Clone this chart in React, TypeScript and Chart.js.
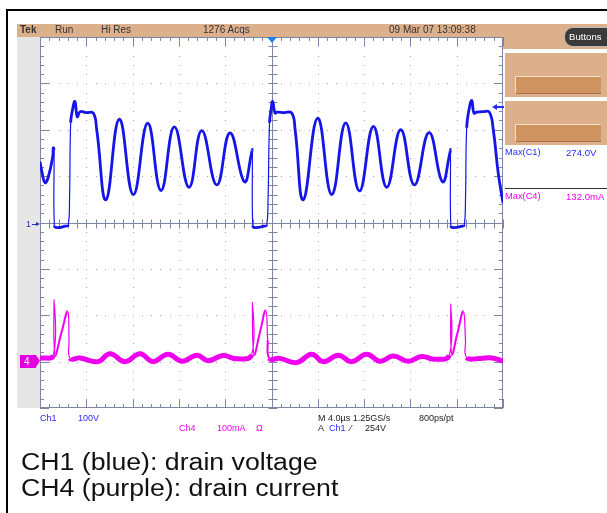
import React, { useEffect, useRef } from "react";
import { Chart, registerables } from "chart.js";

Chart.register(...registerables);

// ---- Data (time in µs, CH1 in V, CH4 in mA) ----
const ch1Time = [0, 0.17, 0.43, 0.69, 1.10, 1.15, 1.21, 1.24, 1.47, 2.16, 2.44, 2.55, 2.65, 2.81, 3.02, 3.22, 3.46, 3.97, 4.60, 4.90, 5.70, 6.85, 8.06, 9.30, 10.45, 11.60, 12.87, 13.97, 15.27, 16.41, 17.65, 18.29, 18.34, 18.38, 18.57, 19.35, 19.59, 19.70, 19.83, 19.96, 20.10, 20.30, 20.48, 21.08, 21.75, 22.04, 22.75, 23.99, 25.20, 26.41, 27.59, 28.80, 29.95, 31.16, 32.34, 33.61, 34.76, 35.42, 35.46, 35.49, 35.68, 36.46, 36.66, 36.76, 36.86, 37.06, 37.30, 37.49, 37.73, 38.27, 38.82, 39.16, 39.59, 40.0];
const ch1Volts = [134, 112, 89, 99, 145, 164, 160, -4, -8, -5, -2, 52, 218, 246, 264, 231, 242, 240, 239, 203, 52, 226, 63, 217, 72, 209, 79, 201, 84, 196, 91, 154, 160, -4, -8, -5, -2, 52, 218, 246, 264, 239, 241, 240, 239, 203, 52, 228, 63, 218, 71, 210, 79, 203, 84, 197, 91, 154, 160, -4, -8, -5, -2, 52, 207, 246, 266, 239, 241, 242, 241, 203, 109, 45];

const ch4Time = [0, 1.15, 1.21, 1.30, 1.84, 2.39, 2.51, 2.59, 3.46, 5.01, 6.05, 7.34, 8.64, 9.76, 11.06, 12.27, 13.56, 14.51, 15.81, 17.02, 18.29, 18.34, 18.49, 19.00, 19.50, 19.67, 19.81, 20.73, 22.18, 23.47, 24.48, 25.77, 26.93, 28.22, 29.37, 30.52, 31.82, 32.98, 34.13, 35.36, 35.48, 35.57, 36.07, 36.57, 36.76, 36.86, 38.01, 39.05, 40.0];
const ch4mA = [7, 14, 133, 15, 61, 108, 47, 7, 8, 0, 17, 0, 17, 0, 16, 1, 14, 2, 13, 6, 15, 128, 16, 63, 110, 47, 7, 7, -2, 16, 0, 14, 0, 16, 1, 12, 1, 11, 5, 14, 124, 16, 62, 108, 47, 9, 7, 8, 1];

// axis ranges (10 div x 4 µs, 8 div x 100 V or 100 mA)
const timeRange = [0, 40];
const ch1Range = [-397, 403];
const ch4Range = [-100, 700];

const FONT = '"Liberation Sans", Arial, Helvetica, sans-serif';
const TAN = "#ddb08c";
const BTN = "#cf935f";
const BLUE = "#1515e8";
const MAGENTA = "#ee00ee";

const graticule = {
  id: "graticule",
  beforeDatasetsDraw(chart: any) {
    const { ctx, chartArea: a } = chart;
    const L = Math.round(a.left), R = Math.round(a.right), T = Math.round(a.top), B = Math.round(a.bottom);
    const dx = (R - L) / 10, dy = (B - T) / 8;
    ctx.save();
    // dotted grid
    ctx.fillStyle = "#9ea4bc";
    for (let i = 1; i < 10; i++) {
      if (i === 5) continue;
      const x = Math.round(L + i * dx);
      for (let k = 1; k < 40; k++) ctx.fillRect(x, Math.round(T + (k * dy) / 5), 1, 1);
    }
    for (let j = 1; j < 8; j++) {
      if (j === 4) continue;
      const y = Math.round(T + j * dy);
      for (let k = 1; k < 50; k++) ctx.fillRect(Math.round(L + (k * dx) / 5), y, 1, 1);
    }
    ctx.strokeStyle = "#7e86a6";
    ctx.lineWidth = 1;
    const line = (x1: number, y1: number, x2: number, y2: number) => {
      ctx.beginPath();
      ctx.moveTo(x1, y1);
      ctx.lineTo(x2, y2);
      ctx.stroke();
    };
    // border
    ctx.strokeRect(L + 0.5, T + 0.5, R - L - 1, B - T - 1);
    // edge ticks
    for (let k = 0; k <= 50; k++) {
      const x = Math.round(L + (k * dx) / 5) + 0.5;
      const len = k % 5 === 0 ? 9 : 4;
      line(x, T, x, T + len);
      line(x, B, x, B - len);
    }
    for (let k = 0; k <= 40; k++) {
      const y = Math.round(T + (k * dy) / 5) + 0.5;
      const len = k % 5 === 0 ? 9 : 4;
      line(L, y, L + len, y);
      line(R, y, R - len, y);
    }
    // center axes
    const cx = Math.round(L + 5 * dx) + 0.5;
    const cy = Math.round(T + 4 * dy) + 0.5;
    line(cx, T, cx, B);
    line(L, cy, R, cy);
    for (let k = 0; k <= 40; k++) {
      const y = Math.round(T + (k * dy) / 5) + 0.5;
      line(cx - 4, y, cx + 5, y);
    }
    for (let k = 0; k <= 50; k++) {
      const x = Math.round(L + (k * dx) / 5) + 0.5;
      line(x, cy - 4, x, cy + 5);
    }
    ctx.restore();
  },
};

function segWidth(thick: number, mid: number, thin: number) {
  return (c: any) => {
    const ddx = Math.abs(c.p1.x - c.p0.x);
    const ddy = Math.abs(c.p1.y - c.p0.y);
    if (ddy > 15 && ddy > 12 * ddx) return thin;
    if (ddy > 15 && ddy > 2 * ddx) return mid;
    return thick;
  };
}

function Txt(props: { x: number; y: number; size?: number; color?: string; bold?: boolean; children: any }) {
  const size = props.size ?? 9;
  return (
    <div
      style={{
        position: "absolute",
        left: props.x,
        top: props.y - size / 2,
        fontSize: size,
        lineHeight: `${size}px`,
        fontFamily: FONT,
        color: props.color ?? "#222",
        fontWeight: props.bold ? 700 : 400,
        whiteSpace: "nowrap",
      }}
    >
      {props.children}
    </div>
  );
}

export default function App() {
  const ref = useRef<HTMLCanvasElement | null>(null);

  useEffect(() => {
    if (!ref.current) return;
    const ch1 = ch1Time.map((t, i) => ({ x: t, y: ch1Volts[i] }));
    const ch4 = ch4Time.map((t, i) => ({ x: t, y: ch4mA[i] }));
    const chart = new Chart(ref.current, {
      type: "line",
      data: {
        datasets: [
          {
            label: "CH4",
            data: ch4,
            yAxisID: "y4",
            borderColor: MAGENTA,
            borderWidth: 5,
            pointRadius: 0,
            tension: 0.45,
            segment: { borderWidth: segWidth(5, 2, 1.2) },
          } as any,
          {
            label: "CH1",
            data: ch1,
            yAxisID: "y",
            borderColor: BLUE,
            borderWidth: 2.8,
            pointRadius: 0,
            tension: 0.45,
            segment: { borderWidth: segWidth(2.8, 2.8, 1.2) },
          } as any,
        ],
      },
      options: {
        animation: false,
        responsive: false,
        maintainAspectRatio: false,
        events: [],
        layout: { padding: { left: 40, top: 37, right: 104, bottom: 105 } },
        plugins: { legend: { display: false }, tooltip: { enabled: false } },
        scales: {
          x: { type: "linear", min: timeRange[0], max: timeRange[1], display: false },
          y: { type: "linear", min: ch1Range[0], max: ch1Range[1], display: false },
          y4: { type: "linear", min: ch4Range[0], max: ch4Range[1], display: false },
        },
      },
      plugins: [graticule],
    });
    return () => chart.destroy();
  }, []);

  const abs = (l: number, t: number, w: number, h: number, extra: any = {}) => ({
    position: "absolute" as const,
    left: l,
    top: t,
    width: w,
    height: h,
    ...extra,
  });

  return (
    <div style={{ position: "absolute", left: 0, top: 0, width: 607, height: 513, overflow: "hidden", background: "#fff" }}>
      {/* outer frame */}
      <div style={abs(6, 9, 700, 600, { borderLeft: "2px solid #000", borderTop: "2px solid #000", boxSizing: "border-box" })} />
      {/* header bar */}
      <div style={abs(17, 24, 590, 13, { background: TAN })} />
      <div style={abs(503, 24, 104, 25, { background: TAN })} />
      {/* left gray strip */}
      <div style={abs(17, 37, 23, 371, { background: "#e6e6e6" })} />
      {/* right panel boxes */}
      <div style={abs(505, 53, 102, 44, { background: TAN })} />
      <div style={abs(515, 76, 86, 18, { background: BTN, borderTop: "1px solid #f3dcc6", borderLeft: "1px solid #f3dcc6", borderBottom: "1px solid #a8703e", boxSizing: "border-box" })} />
      <div style={abs(505, 101, 102, 44, { background: TAN })} />
      <div style={abs(515, 124, 86, 18, { background: BTN, borderTop: "1px solid #f3dcc6", borderLeft: "1px solid #f3dcc6", borderBottom: "1px solid #a8703e", boxSizing: "border-box" })} />
      {/* Buttons pill */}
      <div style={abs(564, 27, 52, 20, { background: "#3a3a3a", border: "1px solid #bdbdbd", borderRadius: 9, boxSizing: "border-box" })} />
      {/* separator line on right */}
      <div style={abs(505, 188, 102, 1, { background: "#333" })} />

      <canvas ref={ref} width={607} height={513} style={abs(0, 0, 607, 513)} />

      {/* trigger position marker */}
      <div style={abs(267, 37, 0, 0, { borderLeft: "5px solid transparent", borderRight: "5px solid transparent", borderTop: "6px solid #1f7fe8" })} />
      {/* right-edge blue arrow */}
      <div style={abs(497, 106, 7, 1.5, { background: "#2a2aee" })} />
      <div style={abs(492, 103.5, 0, 0, { borderTop: "3px solid transparent", borderBottom: "3px solid transparent", borderRight: "5px solid #2a2aee" })} />
      {/* CH1 ground marker */}
      <Txt x={26} y={224} color="#2233aa">1</Txt>
      <div style={abs(32, 223.5, 5, 1, { background: "#2233aa" })} />
      <div style={abs(36, 221.5, 0, 0, { borderTop: "2.5px solid transparent", borderBottom: "2.5px solid transparent", borderLeft: "4px solid #2233aa" })} />
      {/* CH4 ground marker */}
      <div style={abs(20, 355, 16, 13, { background: "#e000e0" })} />
      <div style={abs(36, 355, 0, 0, { borderTop: "6.5px solid transparent", borderBottom: "6.5px solid transparent", borderLeft: "4px solid #e000e0" })} />
      <Txt x={24} y={361.5} size={10} color="#fff">4</Txt>

      {/* header texts */}
      <Txt x={20} y={30} size={10} color="#333" bold>Tek</Txt>
      <Txt x={55} y={30} size={10} color="#333">Run</Txt>
      <Txt x={101} y={30} size={10} color="#333">Hi Res</Txt>
      <Txt x={203} y={30} size={10} color="#333">1276 Acqs</Txt>
      <Txt x={389} y={30} size={10} color="#333">09 Mar 07 13:09:38</Txt>
      <Txt x={569} y={37} size={9.6} color="#fff">Buttons</Txt>

      {/* measurement readouts */}
      <Txt x={505} y={153} size={9.3} color="#2a2aff">Max(C1)</Txt>
      <Txt x={566} y={153} size={9.6} color="#2a2aff">274.0V</Txt>
      <Txt x={505} y={197} size={9.3} color="#ee00ee">Max(C4)</Txt>
      <Txt x={566} y={197} size={9.6} color="#ee00ee">132.0mA</Txt>

      {/* bottom scale readouts */}
      <Txt x={40} y={418} color="#2a2aff">Ch1</Txt>
      <Txt x={78} y={418} color="#2a2aff">100V</Txt>
      <Txt x={179} y={428.5} color="#ee00ee">Ch4</Txt>
      <Txt x={217} y={428.5} color="#ee00ee">100mA</Txt>
      <Txt x={256} y={428.5} color="#ee00ee">Ω</Txt>
      <Txt x={318} y={418} color="#222">M 4.0µs 1.25GS/s</Txt>
      <Txt x={419} y={418} color="#222">800ps/pt</Txt>
      <Txt x={318} y={428.5} color="#222">A</Txt>
      <Txt x={329} y={428.5} color="#2a2aff">Ch1</Txt>
      <Txt x={350} y={428.5} color="#222">⁄</Txt>
      <Txt x={365} y={428.5} color="#222">254V</Txt>

      {/* caption */}
      <div style={{ position: "absolute", left: 21, top: 448.5, fontFamily: FONT, fontSize: 23, lineHeight: "26px", color: "#111", whiteSpace: "nowrap", transform: "scaleX(1.16)", transformOrigin: "0 0" }}>
        <div>CH1 (blue): drain voltage</div>
        <div>CH4 (purple): drain current</div>
      </div>
    </div>
  );
}
